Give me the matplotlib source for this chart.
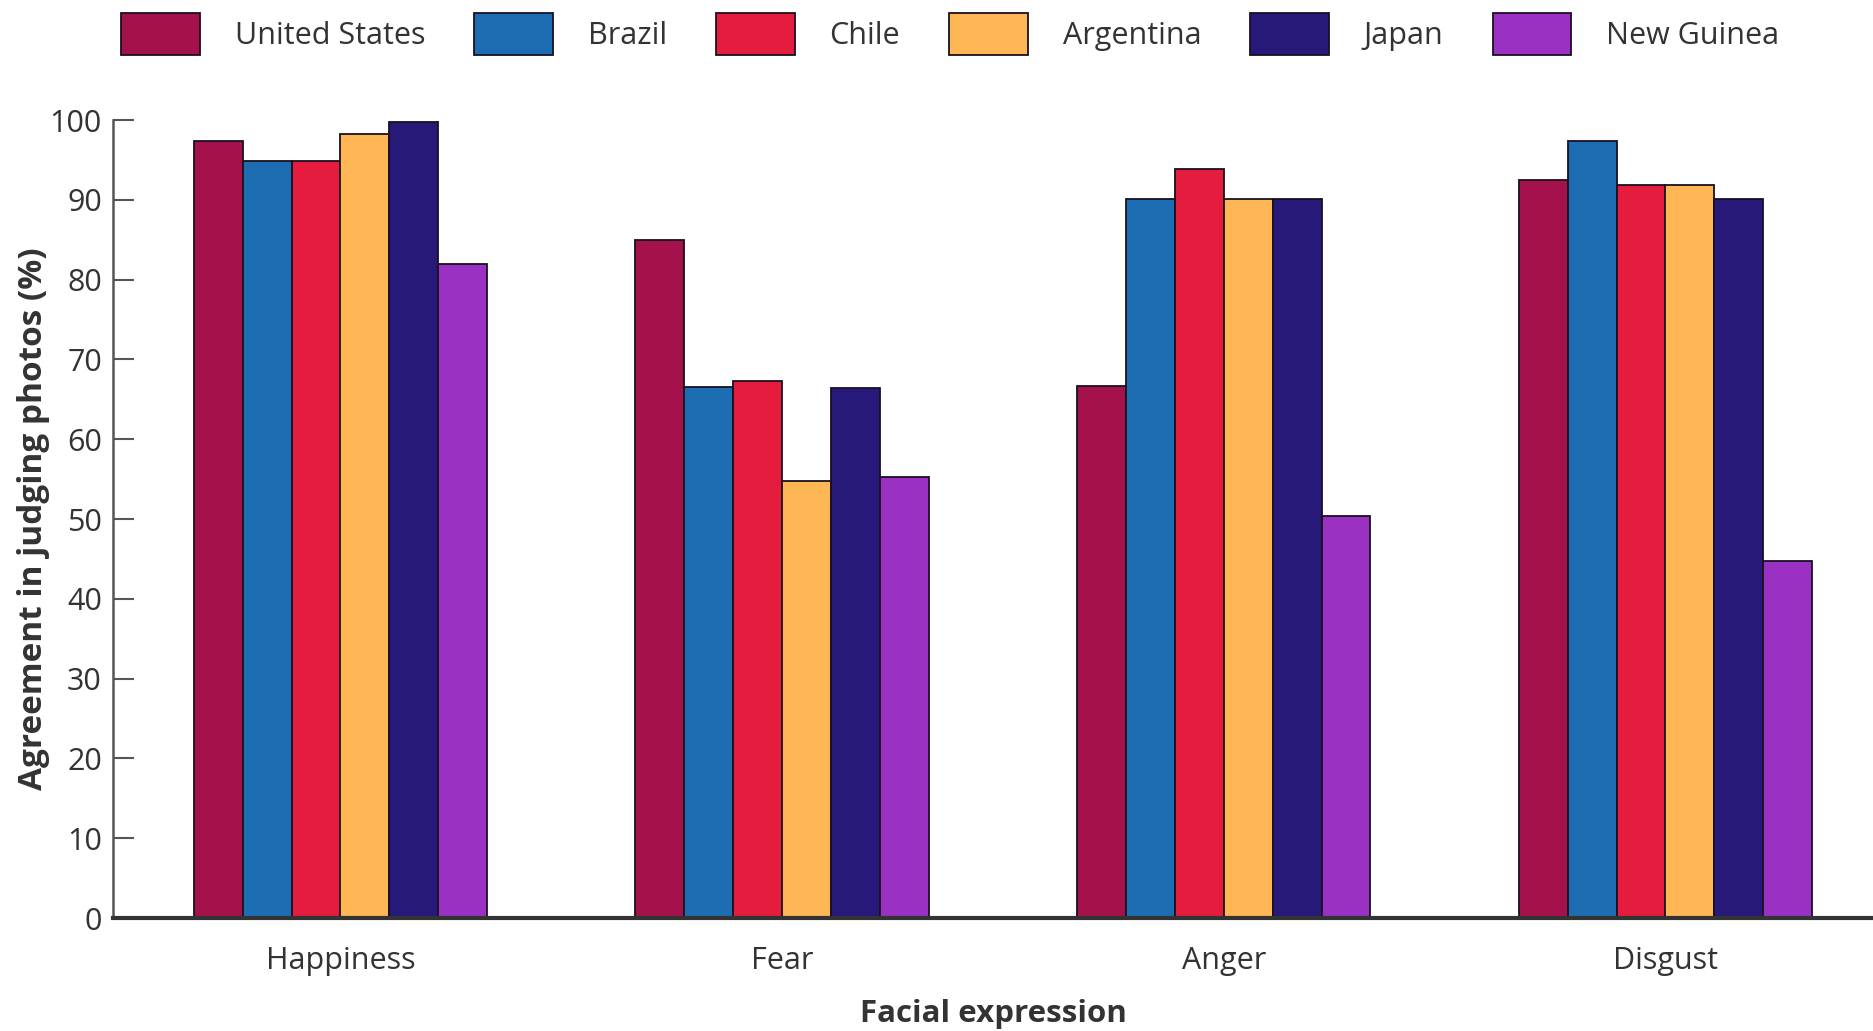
import matplotlib
matplotlib.use("Agg")
import matplotlib.pyplot as plt
import numpy as np

plt.rcParams['font.family'] = ['Open Sans', 'DejaVu Sans']

expressions = ["Happiness", "Fear", "Anger", "Disgust"]
countries = ["United States", "Brazil", "Chile", "Argentina", "Japan", "New Guinea"]
united_states = [97.4, 84.9, 66.7, 92.5]
brazil = [94.9, 66.6, 90.1, 97.4]
chile = [94.9, 67.3, 93.9, 91.9]
argentina = [98.2, 54.8, 90.1, 91.8]
japan = [99.8, 66.4, 90.1, 90.1]
new_guinea = [82.0, 55.3, 50.4, 44.7]
yticks = [0, 10, 20, 30, 40, 50, 60, 70, 80, 90, 100]

series = [united_states, brazil, chile, argentina, japan, new_guinea]
colors = ["#A5124B", "#1C6DB2", "#E61C3E", "#FFB655", "#26197A", "#9A31C2"]

fig = plt.figure(figsize=(18.73, 10.31), dpi=100)
ax = fig.add_axes([113/1873, 1-918/1031, 1-113/1873, (918-120)/1031])

x = np.arange(len(expressions))
w = 0.1107
for i, (vals, c, name) in enumerate(zip(series, colors, countries)):
    ax.bar(x + (i - 2.5) * w, vals, width=w, color=c, edgecolor="#1a1020",
           linewidth=1.3, label=name, clip_on=False, zorder=2)

ax.set_xlim(-0.515, 3.47)
ax.set_ylim(0, 100)
ax.set_yticks(yticks)
ax.set_yticklabels([str(t) for t in yticks], fontsize=22, color="#333333")
ax.set_xticks(x)
ax.set_xticklabels(expressions, fontsize=22, color="#333333")
ax.tick_params(axis="y", direction="in", length=15, width=1.5, pad=8, color="#555555")
ax.tick_params(axis="x", length=0, pad=20)

for s in ["top", "right"]:
    ax.spines[s].set_visible(False)
ax.spines["left"].set_color("#555555")
ax.spines["left"].set_linewidth(1.8)
ax.spines["bottom"].set_color("#333333")
ax.spines["bottom"].set_linewidth(3)
ax.spines["bottom"].set_zorder(3)

ax.set_ylabel("Agreement in judging photos (%)", fontsize=24, fontweight="bold",
              color="#333333", labelpad=0)
ax.set_xlabel("Facial expression", fontsize=22.5, fontweight="bold", color="#333333",
              labelpad=17)

leg = fig.legend(loc="upper left", bbox_to_anchor=(112/1873, 1-4/1031), ncol=6,
                 frameon=False, fontsize=22, handlelength=2.58, handleheight=1.72,
                 handletextpad=1.14, columnspacing=1.6, borderaxespad=0, borderpad=0.3)
for t in leg.get_texts():
    t.set_color("#333333")

fig.savefig("out.png", dpi=100)
